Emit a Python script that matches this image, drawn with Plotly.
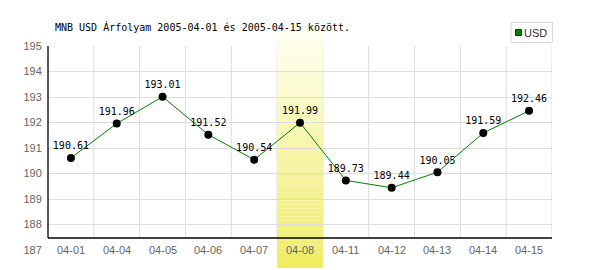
import plotly.graph_objects as go

title = "MNB USD Árfolyam 2005-04-01 és 2005-04-15 között."
categories = ["04-01", "04-04", "04-05", "04-06", "04-07", "04-08",
              "04-11", "04-12", "04-13", "04-14", "04-15"]
usd = [190.61, 191.96, 193.01, 191.52, 190.54, 191.99,
       189.73, 189.44, 190.05, 191.59, 192.46]
y_ticks = [187, 188, 189, 190, 191, 192, 193, 194, 195]
ref_level = 192
highlight = "04-08"
series_name = "USD"

W, H = 600, 270
L, R, T, B = 48, 48, 46, 20
PW, PH = W - L - R, H - T - B


def px(x):
    return (x - L) / PW


def py(y):
    return (H - B - y) / PH


GRID = "#dcdcdc"
axis_y = py(238)
n = len(categories)

shapes = []
# vertical grid lines at category boundaries
for i in range(n):
    shapes.append(dict(type="line", xref="x", yref="paper", x0=i + 0.5, x1=i + 0.5,
                       y0=axis_y, y1=1, line=dict(color=GRID, width=1), layer="below"))
# reference dashed line
shapes.append(dict(type="line", xref="paper", yref="y", x0=0, x1=1, y0=ref_level, y1=ref_level,
                   line=dict(color="#99d499", width=1, dash="4px,2px"), layer="between"))
# highlight band with vertical gradient (strips)
hi = categories.index(highlight)
top_px, bot_px = 30, 268
steps = 60
c0 = (255, 255, 242)
c1 = (239, 236, 96)
for s in range(steps):
    f = s / (steps - 1)
    col = tuple(round(c0[k] + (c1[k] - c0[k]) * f) for k in range(3))
    ya = top_px + (bot_px - top_px) * s / steps
    yb = top_px + (bot_px - top_px) * (s + 1) / steps
    shapes.append(dict(type="rect", xref="x", yref="paper", x0=hi - 0.5, x1=hi + 0.5,
                       y0=py(yb), y1=py(ya), line=dict(width=0),
                       fillcolor="rgb(%d,%d,%d)" % col, layer="between"))
# axis lines
shapes.append(dict(type="line", xref="paper", yref="paper", x0=0, x1=1, y0=axis_y, y1=axis_y,
                   line=dict(color="black", width=1.3), layer="above"))
shapes.append(dict(type="line", xref="paper", yref="paper", x0=0, x1=0, y0=axis_y, y1=1,
                   line=dict(color="black", width=1.3), layer="above"))
# legend box
shapes.append(dict(type="rect", xref="paper", yref="paper", x0=px(511), x1=px(552.5),
                   y0=py(42.5), y1=py(22.5), line=dict(color="#d8d8d8", width=1),
                   fillcolor="white", layer="above"))
shapes.append(dict(type="rect", xref="paper", yref="paper", x0=px(515.5), x1=px(521.5),
                   y0=py(35.5), y1=py(29.5), line=dict(color="#004400", width=1),
                   fillcolor="#008000", layer="above"))

annotations = []
annotations.append(dict(text=title, xref="paper", yref="paper", x=px(53), y=py(27),
                        xanchor="left", yanchor="middle", showarrow=False,
                        font=dict(family="DejaVu Sans Mono", size=10, color="black")))
annotations.append(dict(text=series_name, xref="paper", yref="paper", x=px(522), y=py(33),
                        xanchor="left", yanchor="middle", showarrow=False,
                        font=dict(family="Liberation Sans", size=11, color="#333333")))
for c in categories:
    annotations.append(dict(text=c, xref="x", yref="y", x=c, y=y_ticks[0],
                            xanchor="center", yanchor="middle", showarrow=False,
                            font=dict(family="Liberation Sans", size=11, color="#666666")))

fig = go.Figure()
fig.add_trace(go.Scatter(
    x=categories, y=usd, mode="lines+markers+text",
    text=["%.2f" % v for v in usd], textposition="top center",
    textfont=dict(family="DejaVu Sans Mono", size=10, color="black"),
    line=dict(color="#008000", width=1),
    marker=dict(color="black", size=8),
    name=series_name, showlegend=False, cliponaxis=False,
))

fig.update_layout(
    width=W, height=H,
    margin=dict(l=L, r=R, t=T, b=B),
    paper_bgcolor="white", plot_bgcolor="white",
    showlegend=False,
    shapes=shapes, annotations=annotations,
    xaxis=dict(type="category", range=[-0.5, n - 0.5], showgrid=False, zeroline=False,
               showline=False, showticklabels=False, ticks=""),
    yaxis=dict(range=[y_ticks[0], y_ticks[-1]], tickvals=y_ticks, showgrid=True,
               gridcolor=GRID, gridwidth=1, zeroline=False, showline=False,
               ticks="outside", ticklen=3, tickcolor="rgba(0,0,0,0)",
               tickfont=dict(family="Liberation Sans", size=11, color="#666666")),
)

fig.write_html("out.html")
